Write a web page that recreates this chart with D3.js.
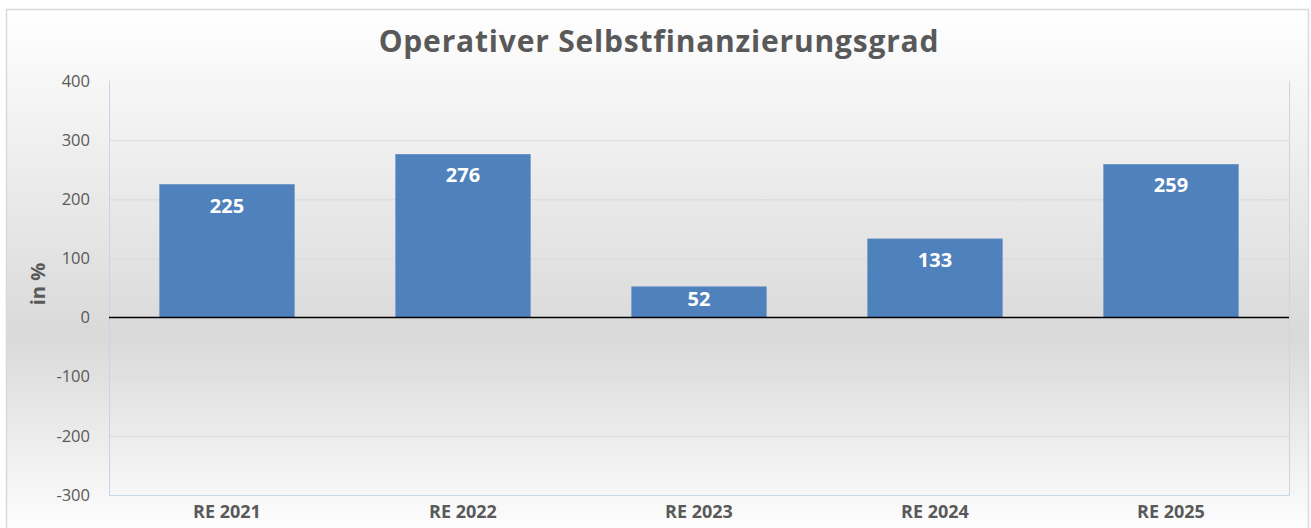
<!DOCTYPE html>
<html>
<head lang="de">
    <meta charset="UTF-8">
    <title>Operativer Selbstfinanzierungsgrad</title>
    <script src="https://cdn.jsdelivr.net/npm/d3@7"></script>
    <style>
        body { margin: 0; background: #fff; }
        text { font-family: "Open Sans", "DejaVu Sans", sans-serif; }
    </style>
</head>
<body>
<div id="chart"></div>
<script>

    // data
    var categories = ["RE 2021", "RE 2022", "RE 2023", "RE 2024", "RE 2025"];
    var values     = [225, 276, 52, 133, 259];
    var yTicks     = [-300, -200, -100, 0, 100, 200, 300, 400];

    var W = 1311, H = 528;
    var margin = {left: 109, right: 22, top: 81, bottom: 33};

    var svg = d3.select("#chart").append("svg")
            .attr("width", W)
            .attr("height", H);

    // background gradient
    var defs = svg.append("defs");
    var grad = defs.append("linearGradient")
            .attr("id", "bg")
            .attr("x1", 0).attr("y1", 0).attr("x2", 0).attr("y2", 1);
    grad.append("stop").attr("offset", "0%").attr("stop-color", "#ffffff");
    grad.append("stop").attr("offset", "62%").attr("stop-color", "#d9d9d9");
    grad.append("stop").attr("offset", "100%").attr("stop-color", "#ffffff");

    svg.append("rect")
            .attr("x", 6.5).attr("y", 9.5)
            .attr("width", 1302).attr("height", 530)
            .style("fill", "url(#bg)")
            .style("stroke", "#d9d9d9")
            .style("stroke-width", 1.5);

    var x = d3.scaleBand()
            .domain(categories)
            .range([margin.left, W - margin.right])
            .paddingInner(0.43)
            .paddingOuter(0.215);

    var y = d3.scaleLinear()
            .domain([-300, 400])
            .range([H - margin.bottom, margin.top]);

    // gridlines
    svg.append("g")
            .selectAll("line")
            .data(yTicks.filter(function (d) { return d !== 0; }))
            .enter().append("line")
            .attr("x1", margin.left).attr("x2", W - margin.right)
            .attr("y1", function (d) { return y(d) + 0.5; })
            .attr("y2", function (d) { return y(d) + 0.5; })
            .style("stroke", function (d) { return d === 400 ? "#f2f2f2" : "#d9d9d9"; })
            .style("stroke-width", 1);

    // plot area border (left, right, bottom)
    svg.append("path")
            .attr("d", "M" + (margin.left + 0.5) + "," + margin.top +
                    "V" + (y(-300) + 0.5) + "H" + (W - margin.right + 0.5) + "V" + margin.top)
            .style("fill", "none")
            .style("stroke", "#c6d6ea")
            .style("stroke-width", 1);

    // bars
    svg.append("g")
            .selectAll("rect")
            .data(values)
            .enter().append("rect")
            .attr("x", function (d, i) { return x(categories[i]); })
            .attr("y", function (d) { return y(d); })
            .attr("width", x.bandwidth())
            .attr("height", function (d) { return y(0) - y(d); })
            .style("fill", "#4f81bd")
            .style("stroke", "#5d8bc2")
            .style("stroke-width", 0.6);

    // value labels (inside end, pulled to the middle for short bars)
    svg.append("g")
            .selectAll("text")
            .data(values)
            .enter().append("text")
            .attr("x", function (d, i) { return x(categories[i]) + x.bandwidth() / 2; })
            .attr("y", function (d) {
                var h = y(0) - y(d);
                return y(d) + Math.min(21, h / 2 - 3) + 7;
            })
            .attr("text-anchor", "middle")
            .style("font-size", "20px")
            .style("font-weight", "bold")
            .style("fill", "#ffffff")
            .text(function (d) { return d; });

    // zero line
    svg.append("line")
            .attr("x1", margin.left).attr("x2", W - margin.right)
            .attr("y1", y(0)).attr("y2", y(0))
            .style("stroke", "#000")
            .style("stroke-width", 1.5);

    // y tick labels
    var yAxis = d3.axisLeft(y).tickValues(yTicks).tickSize(0).tickPadding(19)
            .tickFormat(function (d) { return String(d); });
    var gy = svg.append("g")
            .attr("transform", "translate(" + margin.left + ",0)")
            .call(yAxis);
    gy.select(".domain").remove();
    gy.selectAll("text")
            .style("font-family", "'Open Sans', sans-serif")
            .style("font-size", "16.5px")
            .style("fill", "#595959");

    // x labels
    var xAxis = d3.axisBottom(x).tickSize(0).tickPadding(10);
    var gx = svg.append("g")
            .attr("transform", "translate(0," + y(-300) + ")")
            .call(xAxis);
    gx.select(".domain").remove();
    gx.selectAll("text")
            .style("font-family", "'Open Sans', sans-serif")
            .style("font-size", "18px")
            .style("font-weight", "bold")
            .style("fill", "#595959");

    // axis title
    svg.append("text")
            .attr("transform", "translate(45,284) rotate(-90)")
            .attr("text-anchor", "middle")
            .style("font-size", "20px")
            .style("font-weight", "bold")
            .style("fill", "#595959")
            .text("in %");

    // title
    svg.append("text")
            .attr("x", 659)
            .attr("y", 52)
            .attr("text-anchor", "middle")
            .style("font-size", "30px")
            .style("font-weight", "bold")
            .style("letter-spacing", "0.8px")
            .style("fill", "#595959")
            .text("Operativer Selbstfinanzierungsgrad");

</script>
</body>
</html>
